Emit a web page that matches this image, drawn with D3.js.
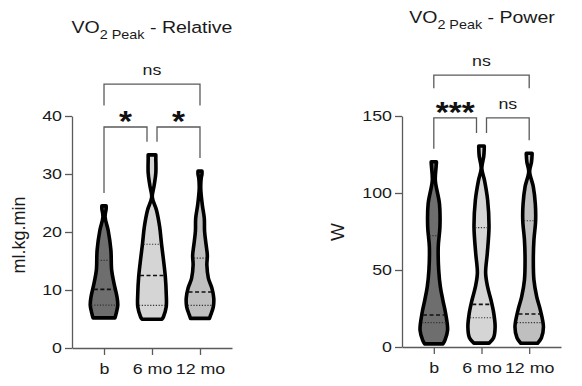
<!DOCTYPE html>
<html>
<head>
<meta charset="utf-8">
<script src="https://cdn.jsdelivr.net/npm/d3@7"></script>
<style>
  body { margin: 0; background: #fff; }
  svg { display: block; font-family: "Liberation Sans", Arial, sans-serif; }
</style>
</head>
<body>
<script>
// groups on the x axis
var groups = ["b", "6 mo", "12 mo"];

// VO2 peak relative (ml.kg.min) - violin outlines: value levels and relative widths
var relB_levels   = [5.2, 6.0, 7.4, 8.8, 11.2, 13.4, 16.9, 20.3, 22.6, 24.0, 24.5];
var relB_widths   = [0.72, 0.80, 0.90, 0.85, 0.65, 0.50, 0.45, 0.27, 0.07, 0.14, 0.14];
var rel6_levels   = [4.95, 5.4, 7.1, 9.4, 12.3, 15.2, 18.0, 20.9, 23.8, 26.0, 28.0, 30.2, 32.6, 33.3];
var rel6_widths   = [0.65, 0.75, 0.93, 0.93, 0.87, 0.75, 0.62, 0.50, 0.29, 0.02, 0.14, 0.25, 0.25, 0.25];
var rel12_levels  = [5.1, 5.7, 7.1, 8.6, 10.3, 12.0, 14.3, 16.0, 17.8, 20.1, 22.4, 24.7, 27.5, 29.3, 30.0, 30.5];
var rel12_widths  = [0.62, 0.70, 0.87, 0.90, 0.78, 0.55, 0.45, 0.48, 0.40, 0.30, 0.28, 0.15, 0.05, 0.08, 0.13, 0.13];
// quartiles [Q1, median, Q3]
var relQuartiles  = [[7.4, 10.1, 15.1], [7.35, 12.5, 17.9], [7.35, 9.65, 15.5]];
var relTicks      = [0, 10, 20, 30, 40];
var relSig        = ["ns", "*", "*"];   // b-12mo, b-6mo, 6mo-12mo

// VO2 peak power (W)
var powB_levels   = [2, 4.5, 11, 21.9, 30.5, 39, 50, 65, 78, 93, 108, 117, 119.5, 120.3];
var powB_widths   = [0.60, 0.73, 0.90, 0.77, 0.59, 0.43, 0.32, 0.29, 0.40, 0.37, 0.10, 0.15, 0.17, 0.17];
var pow6_levels   = [2.5, 6, 13, 22, 30.5, 39, 48, 61, 78, 95.5, 108, 116, 124, 129.5, 130.5];
var pow6_widths   = [0.50, 0.79, 0.89, 0.80, 0.62, 0.40, 0.27, 0.38, 0.49, 0.40, 0.20, 0.02, 0.15, 0.18, 0.18];
var pow12_levels  = [2.4, 6, 13, 24, 32.7, 43.5, 56.5, 69.5, 82, 93, 104, 114, 120, 125, 125.8];
var pow12_widths  = [0.55, 0.80, 0.93, 0.73, 0.49, 0.31, 0.27, 0.31, 0.42, 0.40, 0.27, 0.03, 0.15, 0.19, 0.19];
var powQuartiles  = [[15.8, 20.8, 72.3], [19, 27.7, 77.5], [15.8, 21.4, 82]];
var powTicks      = [0, 50, 100, 150];
var powSig        = ["ns", "***", "ns"];

var fills = ["#6e6e6e", "#d5d5d5", "#bfbfbf"];
var SX = 1.15; // the source picture is slightly stretched sideways

var svg = d3.select("body").append("svg")
  .attr("width", 582).attr("height", 386);

function widthAt(levels, widths, v) {
  var i = d3.bisect(levels, v);
  i = Math.max(1, Math.min(levels.length - 1, i));
  var t = (v - levels[i - 1]) / (levels[i] - levels[i - 1]);
  return widths[i - 1] + t * (widths[i] - widths[i - 1]);
}

function txt(g, x, y, str, size) {
  return g.append("text")
    .attr("transform", "translate(" + x + "," + y + ") scale(" + SX + ",1)")
    .attr("text-anchor", "middle")
    .attr("font-size", size)
    .attr("fill", "#1a1a1a")
    .text(str);
}

function drawPanel(cfg) {
  var g = svg.append("g");
  var x = d3.scalePoint().domain(groups).range([cfg.x0, cfg.x1]).padding(0.667);
  var y = d3.scaleLinear().domain([0, cfg.max]).range([cfg.yBase, cfg.yTop]);
  var w = d3.scaleLinear().domain([0, 1]).range([0, 15.3]);

  // title
  var t = g.append("text")
    .attr("transform", "translate(" + cfg.titleX + "," + cfg.titleY + ") scale(" + SX + ",1)")
    .attr("text-anchor", "middle").attr("font-size", 17).attr("fill", "#1a1a1a");
  t.append("tspan").text("VO");
  t.append("tspan").attr("font-size", 12.5).attr("dy", 6).text("2 Peak");
  t.append("tspan").attr("dy", -6).text(" - " + cfg.title);

  // y label
  g.append("text")
    .attr("transform", "translate(" + cfg.ylabX + "," + cfg.ylabY + ") rotate(-90)")
    .attr("text-anchor", "middle").attr("font-size", cfg.ylabSize).attr("fill", "#1a1a1a")
    .text(cfg.ylabel);

  // axes
  var ya = g.append("g").attr("transform", "translate(" + cfg.x0 + ",0)")
    .call(d3.axisLeft(y).tickValues(cfg.ticks).tickSize(7).tickSizeOuter(0).tickPadding(3));
  var xa = g.append("g").attr("transform", "translate(0," + cfg.yBase + ")")
    .call(d3.axisBottom(x).tickSize(7).tickSizeOuter(0).tickPadding(8));
  [ya, xa].forEach(function(a) {
    a.attr("font-family", null).attr("font-size", 15.5);
    a.selectAll("path, line").attr("stroke", "#5a5a5a").attr("stroke-width", 1.3);
    a.selectAll("text").attr("fill", "#1a1a1a")
      .attr("transform", "scale(" + SX + ",1)")
      .attr("x", function() { return (+d3.select(this).attr("x") || 0) / SX; });
  });

  // violins
  cfg.violins.forEach(function(v, i) {
    var cx = x(groups[i]);
    var pts = v.levels.map(function(l, k) { return [l, v.widths[k]]; });
    var area = d3.area()
      .curve(d3.curveCatmullRom.alpha(0.5))
      .y(function(d) { return y(d[0]); })
      .x0(function(d) { return cx - w(d[1]); })
      .x1(function(d) { return cx + w(d[1]); });
    g.append("path").attr("d", area(pts))
      .attr("fill", fills[i]).attr("stroke", "#000")
      .attr("stroke-width", 3.6).attr("stroke-linejoin", "round");

    cfg.quart[i].forEach(function(q, k) {
      var hw = w(widthAt(v.levels, v.widths, q)) - 1.2;
      g.append("line")
        .attr("x1", cx - hw).attr("x2", cx + hw)
        .attr("y1", y(q)).attr("y2", y(q))
        .attr("stroke", k === 1 ? "#111" : "#333")
        .attr("stroke-width", k === 1 ? 1.6 : 1.1)
        .attr("stroke-dasharray", k === 1 ? "4,2.5" : "1.2,1.6");
    });
  });

  // significance brackets
  var tops = cfg.violins.map(function(v) { return y(d3.max(v.levels)) - 13; });
  var xb = x(groups[0]), x6 = x(groups[1]), x12 = x(groups[2]);
  var brackets = [
    { a: xb, b: x12, top: y(cfg.upper), la: y(cfg.upperLeg), lb: y(cfg.upperLeg), s: cfg.sig[0] },
    { a: xb, b: x6 - 5, top: y(cfg.lower), la: tops[0], lb: tops[1], s: cfg.sig[1] },
    { a: x6 + 5, b: x12, top: y(cfg.lower), la: tops[1], lb: tops[2], s: cfg.sig[2] }
  ];
  brackets.forEach(function(br) {
    g.append("path")
      .attr("d", "M" + br.a + "," + br.la + "V" + br.top + "H" + br.b + "V" + br.lb)
      .attr("fill", "none").attr("stroke", "#5a5a5a").attr("stroke-width", 1.3);
    var mx = (br.a + br.b) / 2;
    if (br.s === "ns") {
      txt(g, mx, br.top - 9, "ns", 15.5);
    } else {
      txt(g, mx, br.top + 4, br.s, 29).attr("font-weight", "bold").attr("fill", "#111");
    }
  });
}

drawPanel({
  x0: 72, x1: 232, yBase: 348, yTop: 116, max: 40, ticks: relTicks,
  title: "Relative", titleX: 152, titleY: 33,
  ylabel: "ml.kg.min", ylabX: 25, ylabY: 235, ylabSize: 18,
  violins: [
    { levels: relB_levels, widths: relB_widths },
    { levels: rel6_levels, widths: rel6_widths },
    { levels: rel12_levels, widths: rel12_widths }
  ],
  quart: relQuartiles, sig: relSig,
  upper: 45.5, upperLeg: 41.8, lower: 38.1
});

drawPanel({
  x0: 402, x1: 561, yBase: 347, yTop: 116, max: 150, ticks: powTicks,
  title: "Power", titleX: 482, titleY: 22.5,
  ylabel: "W", ylabX: 344, ylabY: 232, ylabSize: 19,
  violins: [
    { levels: powB_levels, widths: powB_widths },
    { levels: pow6_levels, widths: pow6_widths },
    { levels: pow12_levels, widths: pow12_widths }
  ],
  quart: powQuartiles, sig: powSig,
  upper: 176.5, upperLeg: 168, lower: 148.8
});
</script>
</body>
</html>
